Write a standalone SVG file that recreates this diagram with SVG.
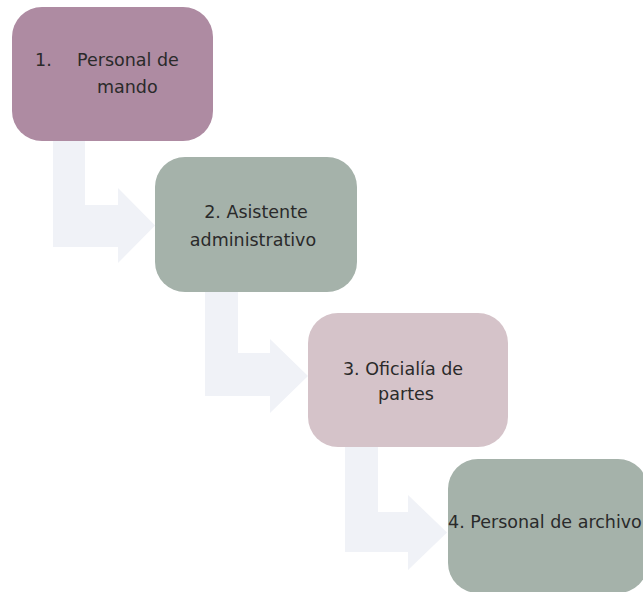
<svg xmlns="http://www.w3.org/2000/svg" width="643" height="592" viewBox="0 0 643 592">
<style>
.arrow{fill:#f0f2f7;}
.t{font-family:"DejaVu Sans","Liberation Sans",sans-serif;font-size:17.5px;fill:#2a2a2a;}
.m{text-anchor:middle;}
</style>
<rect width="643" height="592" fill="#ffffff"/>
<g id="connectors">
<path class="arrow" d="M53,138 H85 V205 H118 V188 L155,225.5 L118,263 V247 H53 Z"/>
<path class="arrow" d="M205,288 H238 V353 H270 V339 L308,376 L270,413 V396 H205 Z"/>
<path class="arrow" d="M345,444 H378 V512 H408 V495 L447,532.5 L408,570 V552 H345 Z"/>
</g>
<g id="node1">
<rect x="12" y="7" width="201" height="134" rx="30" fill="#ae8ba2"/>
<text class="t" x="35" y="66">1.</text>
<text class="t" x="77" y="66">Personal de</text>
<text class="t" x="97" y="93">mando</text>
</g>
<g id="node2">
<rect x="155" y="157" width="202" height="135" rx="30" fill="#a5b2aa"/>
<text class="t m" x="256" y="218">2. Asistente</text>
<text class="t m" x="253" y="246">administrativo</text>
</g>
<g id="node3">
<rect x="308" y="313" width="200" height="134" rx="30" fill="#d5c3c9"/>
<text class="t m" x="403" y="375">3. Oficialía de</text>
<text class="t m" x="406" y="400">partes</text>
</g>
<g id="node4">
<rect x="448" y="459" width="200" height="134" rx="30" fill="#a5b2aa"/>
<text class="t" x="448" y="528">4. Personal de archivo</text>
</g>
</svg>
